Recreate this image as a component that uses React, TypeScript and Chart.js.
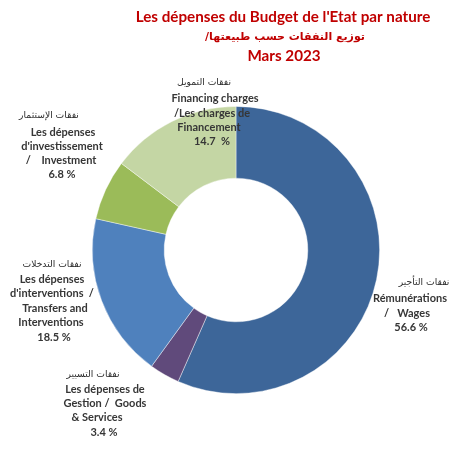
import { useEffect, useRef } from "react";
import { Chart, registerables } from "chart.js";

Chart.register(...registerables);

// ---- data ----
const categories = [
  "Wages",
  "Goods & Services",
  "Transfers and Interventions",
  "Investment",
  "Financing charges",
];
const shares = [56.6, 3.4, 18.5, 6.8, 14.7];
const arabicNames = [
  "نفقات التأجير",
  "نفقات التسيير",
  "نفقات التدخلات",
  "نفقات الإستثمار",
  "نفقات التمويل",
];
const labelLines = [
  ["Rémunérations", "/   Wages"],
  ["Les dépenses de", "Gestion /  Goods", "& Services"],
  ["Les dépenses", "d'interventions  /", "Transfers and", "Interventions"],
  ["Les dépenses", "d'investissement", "/    Investment"],
  ["Financing charges", "/Les charges de", "Financement"],
];
const percentLabels = ["56.6 %", "3.4 %", "18.5 %", "6.8 %", "14.7  %"];
const titleLines = [
  "Les dépenses du Budget de l'Etat par nature",
  "توزيع النفقات حسب طبيعتها/",
  "Mars 2023",
];

// ---- styles / layout ----
const sliceColors = ["#3D6699", "#604A7B", "#4F81BD", "#9BBB59", "#C4D6A4"];
const TITLE_COLOR = "#C00000";
const LABEL_COLOR = "#363636";
const ARABIC_LABEL_COLOR = "#2A2A2A";
const LATIN_FONT = "Lato, 'Open Sans', sans-serif";
const ARABIC_FONT = "'DejaVu Sans', sans-serif";

// per category: [arabic line, ...english lines, percent] -> [x, y]
const labelPositions: number[][][] = [
  [[424, 283], [410, 298], [407, 313], [411, 327]],
  [[93, 375], [105, 389], [105, 403], [97, 417], [104, 432]],
  [[52, 265], [52, 279], [52, 293], [55, 308], [51, 322], [54, 337]],
  [[49, 116], [63, 132], [62, 146], [61, 160], [62, 174]],
  [[204, 83], [215, 98], [212, 113], [209, 127], [212, 141]],
];
const titlePositions = [
  [283, 17],
  [285, 37],
  [284, 56],
];

function fitSize(ctx: CanvasRenderingContext2D, text: string, family: string, weight: string, target: number) {
  ctx.font = `${weight} 20px ${family}`;
  const w = ctx.measureText(text).width;
  return (20 * target) / w;
}

const textPlugin = {
  id: "customText",
  afterDraw(chart: any) {
    const ctx: CanvasRenderingContext2D = chart.ctx;
    ctx.save();
    ctx.textAlign = "center";
    ctx.textBaseline = "middle";

    // title
    const tSize = fitSize(ctx, titleLines[0], LATIN_FONT, "bold", 295);
    const aSize = fitSize(ctx, titleLines[1], ARABIC_FONT, "bold", 160);
    ctx.fillStyle = TITLE_COLOR;
    ctx.font = `bold ${tSize}px ${LATIN_FONT}`;
    ctx.direction = "ltr";
    ctx.fillText(titleLines[0], titlePositions[0][0], titlePositions[0][1]);
    ctx.font = `bold ${aSize}px ${ARABIC_FONT}`;
    ctx.direction = "rtl";
    ctx.fillText(titleLines[1], titlePositions[1][0], titlePositions[1][1]);
    ctx.direction = "ltr";
    ctx.font = `bold ${tSize}px ${LATIN_FONT}`;
    ctx.fillText(titleLines[2], titlePositions[2][0], titlePositions[2][1]);

    // labels
    const lSize = fitSize(ctx, "Rémunérations", LATIN_FONT, "bold", 74);
    const arSize = fitSize(ctx, arabicNames[4], ARABIC_FONT, "normal", 54);
    categories.forEach((_, i) => {
      const pos = labelPositions[i];
      const lines = [arabicNames[i], ...labelLines[i], percentLabels[i]];
      lines.forEach((line, j) => {
        if (j === 0) {
          ctx.font = `normal ${arSize}px ${ARABIC_FONT}`;
          ctx.direction = "rtl";
          ctx.fillStyle = ARABIC_LABEL_COLOR;
        } else {
          ctx.font = `bold ${lSize}px ${LATIN_FONT}`;
          ctx.direction = "ltr";
          ctx.fillStyle = LABEL_COLOR;
        }
        ctx.fillText(line, pos[j][0], pos[j][1]);
      });
    });
    ctx.restore();
  },
};

export default function App() {
  const ref = useRef<HTMLCanvasElement | null>(null);

  useEffect(() => {
    if (!ref.current) return;
    const chart = new Chart(ref.current, {
      type: "doughnut",
      data: {
        labels: categories,
        datasets: [
          {
            data: shares,
            backgroundColor: sliceColors,
            borderColor: "rgba(255,255,255,0.55)",
            borderWidth: 0.75,
          },
        ],
      },
      options: {
        responsive: false,
        animation: false,
        cutout: "50%",
        rotation: 0,
        layout: { padding: { left: 92, right: 88, top: 106, bottom: 63 } },
        plugins: {
          legend: { display: false },
          title: { display: false },
          tooltip: { enabled: false },
        },
      },
      plugins: [textPlugin],
    });
    return () => chart.destroy();
  }, []);

  return (
    <div style={{ position: "absolute", left: 0, top: 0, width: 468, height: 457, background: "#fff" }}>
      <canvas ref={ref} width={468} height={457} style={{ width: 468, height: 457 }} />
    </div>
  );
}
